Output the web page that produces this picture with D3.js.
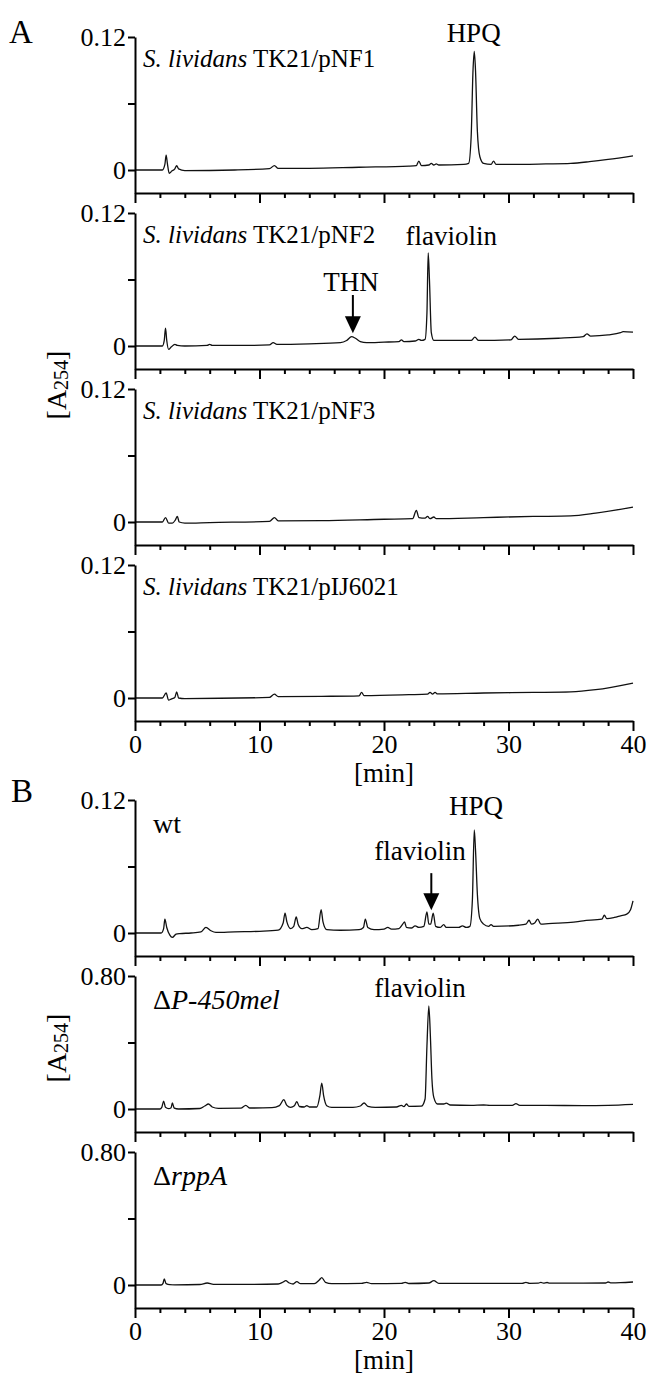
<!DOCTYPE html>
<html>
<head>
<meta charset="utf-8">
<script src="https://cdn.jsdelivr.net/npm/d3@7"></script>
<style>
    body { margin: 0; background: #fff; }
    svg { display: block; font-family: "Liberation Serif", "Times New Roman", serif; }
    .axis path, .axis line { stroke: #000; stroke-width: 2; }
    .axis text { font-family: "Liberation Serif", serif; font-size: 26px; fill: #000; }
    .trace { fill: none; stroke: #111; stroke-width: 1.3; stroke-linejoin: round; }
    .label { font-size: 27px; fill: #000; }
</style>
</head>
<body>
<script>
//retention time ticks [min]
var timeTicks = [0, 2, 4, 6, 8, 10, 12, 14, 16, 18, 20, 22, 24, 26, 28, 30, 32, 34, 36, 38, 40];
var timeLabels = [0, 10, 20, 30, 40];

//panel A: S. lividans TK21 transformants, [time, A254]
var strainsA = ["TK21/pNF1", "TK21/pNF2", "TK21/pNF3", "TK21/pIJ6021"];
var maxA = [0.12, 0.12, 0.12, 0.12];

var pNF1 = [[0,0],[2.2,0],[2.4,0.005],[2.5,0.0135],[2.6,0.006],[2.75,-0.003],[2.95,-0.001],[3.2,0.001],[3.35,0.004],[3.5,0.001],[4,-0.0005],[8,0],[10.8,0.0012],[11.2,0.004],[11.5,0.0015],[14,0.0015],[18,0.0025],[22,0.0035],[22.6,0.004],[22.8,0.008],[23.0,0.004],[23.6,0.0045],[23.8,0.006],[24.0,0.0045],[24.2,0.0055],[24.4,0.0045],[26.4,0.005],[26.8,0.006],[27.0,0.03],[27.15,0.09],[27.25,0.107],[27.35,0.09],[27.5,0.035],[27.7,0.012],[28.0,0.006],[28.6,0.005],[28.8,0.008],[29.0,0.005],[30,0.005],[33,0.0055],[35,0.006],[36.5,0.0075],[38,0.0095],[40,0.0128]];

var pNF2 = [[0,0],[2.2,0],[2.35,0.005],[2.45,0.016],[2.55,0.005],[2.7,-0.003],[2.9,-0.001],[3.2,0.0015],[3.4,0.0005],[4,0],[5.8,0.0005],[6,0.0015],[6.2,0.0005],[9,0.0005],[10.8,0.001],[11.1,0.003],[11.4,0.0015],[14,0.002],[16.5,0.003],[17.0,0.005],[17.4,0.0085],[17.7,0.007],[18.1,0.004],[18.6,0.003],[20,0.0035],[21.2,0.004],[21.4,0.0055],[21.6,0.004],[22.5,0.0045],[22.8,0.006],[23.0,0.005],[23.3,0.006],[23.45,0.03],[23.55,0.084],[23.65,0.06],[23.8,0.012],[24.0,0.005],[25,0.005],[27.0,0.005],[27.3,0.008],[27.6,0.005],[30.2,0.0055],[30.5,0.009],[30.8,0.006],[34,0.007],[36.0,0.0085],[36.3,0.011],[36.6,0.009],[38,0.01],[39,0.012],[39.2,0.013],[40,0.0125]];

var pNF3 = [[0,0],[2.2,0],[2.45,0.004],[2.7,-0.001],[3.0,-0.001],[3.25,0.002],[3.4,0.005],[3.55,0],[4,-0.001],[6,-0.0005],[10.8,0.0005],[11.2,0.004],[11.5,0.001],[15,0.0012],[20,0.0025],[22.3,0.003],[22.6,0.0105],[22.8,0.004],[23.3,0.0035],[23.5,0.005],[23.7,0.003],[24.0,0.0045],[24.2,0.003],[28,0.004],[32,0.005],[35,0.0055],[37,0.008],[40,0.0135]];

var pIJ6021 = [[0,0],[2.2,0],[2.5,0.0045],[2.7,-0.002],[2.9,-0.001],[3.2,0.0005],[3.35,0.0055],[3.5,0],[4,-0.0005],[10.8,0.0005],[11.2,0.0035],[11.5,0.0012],[15,0.0015],[18.0,0.002],[18.2,0.005],[18.4,0.0022],[22,0.003],[23.5,0.0035],[23.7,0.005],[23.9,0.0035],[24.1,0.005],[24.3,0.0037],[28,0.0045],[32,0.005],[35,0.0055],[37,0.0075],[40,0.0135]];

//panel B: strains, [time, A254]
var strainsB = ["wt", "\u0394P-450mel", "\u0394rppA"];
var maxB = [0.12, 0.80, 0.80];

var wt = [[0,0],[2.1,0],[2.3,0.004],[2.4,0.0125],[2.55,0.005],[2.8,-0.002],[3.0,-0.004],[3.3,-0.001],[3.6,-0.0005],[4.5,0],[5.3,0.001],[5.7,0.005],[6.1,0.002],[6.5,0.0005],[8,0.001],[10,0.0015],[11.5,0.0025],[11.9,0.009],[12.05,0.018],[12.2,0.01],[12.5,0.004],[12.75,0.006],[12.95,0.0145],[13.1,0.008],[13.4,0.004],[13.8,0.005],[14.2,0.003],[14.7,0.004],[14.95,0.021],[15.1,0.01],[15.4,0.003],[16.5,0.0025],[18,0.003],[18.35,0.005],[18.5,0.0125],[18.7,0.005],[19.2,0.003],[20,0.0035],[20.3,0.005],[20.6,0.0035],[21.2,0.004],[21.5,0.008],[21.65,0.01],[21.8,0.005],[22.2,0.0045],[22.5,0.0065],[22.8,0.005],[23.2,0.006],[23.45,0.019],[23.6,0.008],[23.75,0.008],[23.95,0.018],[24.15,0.006],[24.5,0.005],[24.8,0.0075],[25.0,0.005],[26.0,0.005],[26.3,0.0065],[26.6,0.005],[26.9,0.006],[27.1,0.03],[27.25,0.093],[27.35,0.075],[27.5,0.035],[27.7,0.013],[28.0,0.008],[28.4,0.006],[28.6,0.0075],[28.8,0.006],[30.8,0.007],[31.4,0.008],[31.65,0.0115],[31.85,0.008],[32.1,0.009],[32.35,0.0125],[32.6,0.008],[33.2,0.0085],[34,0.009],[35,0.0095],[36,0.011],[37.5,0.0125],[37.7,0.016],[37.9,0.013],[38.5,0.014],[39,0.0155],[39.5,0.017],[39.8,0.021],[40,0.029]];

var dP450mel = [[0,0],[2.0,0],[2.15,0.01],[2.3,0.047],[2.45,0.01],[2.7,0.002],[2.9,0.008],[3.0,0.036],[3.15,0.005],[3.5,0],[5.2,0.003],[5.6,0.018],[5.9,0.03],[6.2,0.012],[6.7,0.004],[8.5,0.005],[8.9,0.022],[9.2,0.006],[11,0.008],[11.6,0.02],[11.95,0.056],[12.2,0.022],[12.5,0.01],[12.8,0.02],[13.0,0.044],[13.2,0.015],[13.6,0.012],[13.8,0.02],[14.0,0.012],[14.6,0.012],[14.85,0.08],[15.0,0.156],[15.15,0.08],[15.4,0.02],[15.8,0.01],[17.5,0.01],[18.1,0.018],[18.4,0.036],[18.7,0.016],[19.3,0.01],[21,0.012],[21.4,0.022],[21.6,0.014],[21.8,0.03],[22,0.016],[23,0.017],[23.3,0.06],[23.45,0.38],[23.6,0.62],[23.72,0.45],[23.85,0.18],[24.0,0.07],[24.3,0.03],[24.8,0.03],[25.0,0.035],[25.3,0.024],[27,0.022],[28.0,0.024],[28.5,0.022],[30.3,0.022],[30.6,0.032],[30.9,0.022],[33,0.022],[36,0.02],[38,0.022],[40,0.028]];

var dRppA = [[0,0],[2.1,0],[2.25,0.01],[2.35,0.036],[2.5,0.008],[2.8,0.002],[3.2,0.001],[5.2,0.003],[5.8,0.012],[6.3,0.004],[9,0.004],[11.5,0.006],[11.9,0.018],[12.1,0.026],[12.4,0.012],[12.7,0.006],[13.0,0.02],[13.3,0.008],[14.4,0.008],[14.8,0.03],[15.0,0.044],[15.3,0.016],[15.8,0.008],[18.2,0.01],[18.6,0.016],[19.0,0.008],[21.4,0.01],[21.7,0.016],[22,0.009],[23.6,0.012],[24.0,0.026],[24.4,0.01],[28,0.01],[31.1,0.01],[31.4,0.016],[31.7,0.01],[32.4,0.011],[32.6,0.016],[32.8,0.011],[33.1,0.015],[33.3,0.011],[36,0.011],[37.8,0.012],[38.0,0.018],[38.2,0.013],[39,0.014],[40,0.018]];

//peak annotations: panel index, text, time, baseline value
var notesA = [[0, "HPQ", 27.2, 0.1155], [1, "flaviolin", 25.4, 0.091], [1, "THN", 17.35, 0.05]];
var notesB = [[0, "HPQ", 27.4, 0.1065], [0, "flaviolin", 22.9, 0.066], [1, "flaviolin", 22.9, 0.673]];

//arrows: panel index, time, tail value, tip value
var arrowsA = [[1, 17.5, 0.046, 0.0115]];
var arrowsB = [[0, 23.8, 0.054, 0.0205]];

window.onload = drawFigure;

function drawFigure(){

    //figure frame
    var width = 647,
        height = 1376;

    var svg = d3.select("body")
        .append("svg")
        .attr("width", width)
        .attr("height", height);

    svg.append("rect")
        .attr("width", width)
        .attr("height", height)
        .attr("fill", "#fff");

    //shared time scale
    var x = d3.scaleLinear()
        .domain([0, 40])
        .range([135, 633]);

    //panel layout: px from max tick to zero, zero to time axis, panel pitch
    var span = 133,
        below = 23,
        pitch = 176;

    var tracesA = [pNF1, pNF2, pNF3, pIJ6021],
        tracesB = [wt, dP450mel, dRppA];

    var line = d3.line()
        .x(function(d){ return x(d[0]); })
        .curve(d3.curveMonotoneX);

    function drawPanel(trace, max, top, last){
        var y = d3.scaleLinear()
            .domain([-max * below / span, max])
            .range([top + span + below, top]);

        var g = svg.append("g");

        g.append("path")
            .datum(trace)
            .attr("class", "trace")
            .attr("d", line.y(function(d){ return y(d[1]); }));

        //absorbance axis, only 0 and max labelled
        g.append("g")
            .attr("class", "axis")
            .attr("transform", "translate(" + x(0) + ",0)")
            .call(d3.axisLeft(y)
                .tickValues([0, max / 2, max])
                .tickSize(7)
                .tickSizeOuter(0)
                .tickPadding(2)
                .tickFormat(function(d){ return d == 0 ? "0" : (d == max ? max.toFixed(2) : ""); }));

        //time axis, long ticks every 10 min
        var xa = g.append("g")
            .attr("class", "axis")
            .attr("transform", "translate(0," + (top + span + below) + ")")
            .call(d3.axisBottom(x)
                .tickValues(timeTicks)
                .tickSize(5)
                .tickSizeOuter(0)
                .tickPadding(9)
                .tickFormat(function(d){ return last && timeLabels.indexOf(d) >= 0 ? d : ""; }));

        xa.selectAll(".tick line")
            .attr("y2", function(d){ return d % 10 == 0 ? 10 : 5; });

        if (last){
            g.append("text")
                .attr("class", "label")
                .attr("x", x(20))
                .attr("y", top + span + below + 61)
                .attr("text-anchor", "middle")
                .text("[min]");
        }
        return y;
    }

    function drawTitle(top, parts){
        var t = svg.append("text")
            .attr("class", "label")
            .style("font-size", parts.size + "px")
            .attr("x", parts.x)
            .attr("y", top + parts.dy);
        parts.list.forEach(function(p){
            t.append("tspan")
                .attr("font-style", p[1] ? "italic" : "normal")
                .text(p[0]);
        });
    }

    function drawNote(y, n){
        svg.append("text")
            .attr("class", "label")
            .attr("x", x(n[2]))
            .attr("y", y(n[3]))
            .attr("text-anchor", "middle")
            .text(n[1]);
    }

    function drawArrow(y, a){
        var ax = x(a[1]),
            tail = y(a[2]),
            tip = y(a[3]);
        svg.append("line")
            .attr("x1", ax).attr("x2", ax)
            .attr("y1", tail).attr("y2", tip - 10)
            .attr("stroke", "#000")
            .attr("stroke-width", 2);
        svg.append("path")
            .attr("d", "M" + (ax - 8) + "," + (tip - 17) + "L" + (ax + 8) + "," + (tip - 17) + "L" + ax + "," + tip + "Z")
            .attr("fill", "#000");
    }

    function drawYLabel(cy){
        var t = svg.append("text")
            .attr("font-size", "28px")
            .attr("transform", "translate(66," + cy + ") rotate(-90)")
            .attr("text-anchor", "middle");
        t.append("tspan").text("[A");
        t.append("tspan").attr("font-size", "20px").attr("dy", 2).text("254");
        t.append("tspan").attr("dy", -2).text("]");
    }

    //panel A
    var topA = 37;
    var scalesA = tracesA.map(function(tr, i){
        var top = topA + pitch * i;
        var y = drawPanel(tr, maxA[i], top, i == tracesA.length - 1);
        drawTitle(top, { x: 143, dy: 30, size: 25, list: [["S. lividans", true], [" " + strainsA[i], false]] });
        return y;
    });
    notesA.forEach(function(n){ drawNote(scalesA[n[0]], n); });
    arrowsA.forEach(function(a){ drawArrow(scalesA[a[0]], a); });
    drawYLabel(topA + 348);

    //panel B
    var topB = 800;
    var scalesB = tracesB.map(function(tr, i){
        var top = topB + pitch * i;
        var y = drawPanel(tr, maxB[i], top, i == tracesB.length - 1);
        var parts = i == 0 ? [[strainsB[i], false]] : [["\u0394", false], [strainsB[i].slice(1), true]];
        drawTitle(top, { x: 153, dy: 33, size: 28, list: parts });
        return y;
    });
    notesB.forEach(function(n){ drawNote(scalesB[n[0]], n); });
    arrowsB.forEach(function(a){ drawArrow(scalesB[a[0]], a); });
    drawYLabel(topB + 248);

    //panel letters
    svg.append("text").attr("x", 9).attr("y", 43).attr("font-size", "33px").text("A");
    svg.append("text").attr("x", 11).attr("y", 802).attr("font-size", "33px").text("B");
}
</script>
</body>
</html>
